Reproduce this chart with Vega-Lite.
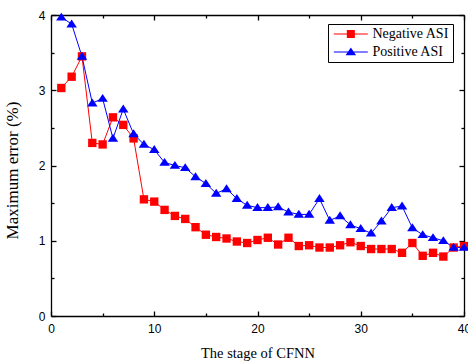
{
  "$schema": "https://vega.github.io/schema/vega-lite/v6.json",
  "width": 413,
  "height": 301,
  "autosize": "none",
  "padding": {"left": 51, "top": 15, "right": 4, "bottom": 46},
  "config": {
    "view": {"stroke": null},
    "font": "Liberation Sans",
    "axis": {
      "domainColor": "black",
      "domainWidth": 1.3,
      "tickColor": "black",
      "tickWidth": 1.3,
      "grid": false,
      "labelFont": "Liberation Sans",
      "labelFontSize": 12,
      "labelColor": "black",
      "titleFont": "Liberation Serif",
      "titleFontWeight": "normal",
      "titleColor": "black"
    }
  },
  "data": {
    "values": [
      {"stage": 1, "series": "Negative ASI", "value": 3.03},
      {"stage": 2, "series": "Negative ASI", "value": 3.18},
      {"stage": 3, "series": "Negative ASI", "value": 3.45},
      {"stage": 4, "series": "Negative ASI", "value": 2.30},
      {"stage": 5, "series": "Negative ASI", "value": 2.28},
      {"stage": 6, "series": "Negative ASI", "value": 2.64},
      {"stage": 7, "series": "Negative ASI", "value": 2.54},
      {"stage": 8, "series": "Negative ASI", "value": 2.36},
      {"stage": 9, "series": "Negative ASI", "value": 1.55},
      {"stage": 10, "series": "Negative ASI", "value": 1.52},
      {"stage": 11, "series": "Negative ASI", "value": 1.41},
      {"stage": 12, "series": "Negative ASI", "value": 1.33},
      {"stage": 13, "series": "Negative ASI", "value": 1.29},
      {"stage": 14, "series": "Negative ASI", "value": 1.18},
      {"stage": 15, "series": "Negative ASI", "value": 1.08},
      {"stage": 16, "series": "Negative ASI", "value": 1.05},
      {"stage": 17, "series": "Negative ASI", "value": 1.03},
      {"stage": 18, "series": "Negative ASI", "value": 0.99},
      {"stage": 19, "series": "Negative ASI", "value": 0.97},
      {"stage": 20, "series": "Negative ASI", "value": 1.01},
      {"stage": 21, "series": "Negative ASI", "value": 1.04},
      {"stage": 22, "series": "Negative ASI", "value": 0.95},
      {"stage": 23, "series": "Negative ASI", "value": 1.04},
      {"stage": 24, "series": "Negative ASI", "value": 0.93},
      {"stage": 25, "series": "Negative ASI", "value": 0.94},
      {"stage": 26, "series": "Negative ASI", "value": 0.91},
      {"stage": 27, "series": "Negative ASI", "value": 0.91},
      {"stage": 28, "series": "Negative ASI", "value": 0.94},
      {"stage": 29, "series": "Negative ASI", "value": 0.98},
      {"stage": 30, "series": "Negative ASI", "value": 0.93},
      {"stage": 31, "series": "Negative ASI", "value": 0.89},
      {"stage": 32, "series": "Negative ASI", "value": 0.89},
      {"stage": 33, "series": "Negative ASI", "value": 0.89},
      {"stage": 34, "series": "Negative ASI", "value": 0.84},
      {"stage": 35, "series": "Negative ASI", "value": 0.97},
      {"stage": 36, "series": "Negative ASI", "value": 0.80},
      {"stage": 37, "series": "Negative ASI", "value": 0.84},
      {"stage": 38, "series": "Negative ASI", "value": 0.79},
      {"stage": 39, "series": "Negative ASI", "value": 0.91},
      {"stage": 40, "series": "Negative ASI", "value": 0.93},
      {"stage": 1, "series": "Positive ASI", "value": 3.97},
      {"stage": 2, "series": "Positive ASI", "value": 3.88},
      {"stage": 3, "series": "Positive ASI", "value": 3.45},
      {"stage": 4, "series": "Positive ASI", "value": 2.83},
      {"stage": 5, "series": "Positive ASI", "value": 2.89},
      {"stage": 6, "series": "Positive ASI", "value": 2.36},
      {"stage": 7, "series": "Positive ASI", "value": 2.75},
      {"stage": 8, "series": "Positive ASI", "value": 2.42},
      {"stage": 9, "series": "Positive ASI", "value": 2.28},
      {"stage": 10, "series": "Positive ASI", "value": 2.21},
      {"stage": 11, "series": "Positive ASI", "value": 2.04},
      {"stage": 12, "series": "Positive ASI", "value": 2.00},
      {"stage": 13, "series": "Positive ASI", "value": 1.97},
      {"stage": 14, "series": "Positive ASI", "value": 1.85},
      {"stage": 15, "series": "Positive ASI", "value": 1.76},
      {"stage": 16, "series": "Positive ASI", "value": 1.63},
      {"stage": 17, "series": "Positive ASI", "value": 1.69},
      {"stage": 18, "series": "Positive ASI", "value": 1.56},
      {"stage": 19, "series": "Positive ASI", "value": 1.47},
      {"stage": 20, "series": "Positive ASI", "value": 1.44},
      {"stage": 21, "series": "Positive ASI", "value": 1.44},
      {"stage": 22, "series": "Positive ASI", "value": 1.45},
      {"stage": 23, "series": "Positive ASI", "value": 1.38},
      {"stage": 24, "series": "Positive ASI", "value": 1.35},
      {"stage": 25, "series": "Positive ASI", "value": 1.35},
      {"stage": 26, "series": "Positive ASI", "value": 1.56},
      {"stage": 27, "series": "Positive ASI", "value": 1.27},
      {"stage": 28, "series": "Positive ASI", "value": 1.33},
      {"stage": 29, "series": "Positive ASI", "value": 1.21},
      {"stage": 30, "series": "Positive ASI", "value": 1.16},
      {"stage": 31, "series": "Positive ASI", "value": 1.10},
      {"stage": 32, "series": "Positive ASI", "value": 1.26},
      {"stage": 33, "series": "Positive ASI", "value": 1.44},
      {"stage": 34, "series": "Positive ASI", "value": 1.46},
      {"stage": 35, "series": "Positive ASI", "value": 1.17},
      {"stage": 36, "series": "Positive ASI", "value": 1.08},
      {"stage": 37, "series": "Positive ASI", "value": 1.04},
      {"stage": 38, "series": "Positive ASI", "value": 1.00},
      {"stage": 39, "series": "Positive ASI", "value": 0.91},
      {"stage": 40, "series": "Positive ASI", "value": 0.91}
    ]
  },
  "layer": [
    {
      "mark": {"type": "line", "strokeWidth": 1, "clip": false},
      "encoding": {
        "x": {
          "field": "stage", "type": "quantitative",
          "scale": {"domain": [0, 40], "nice": false, "zero": false},
          "axis": {
            "orient": "bottom",
            "title": "The stage of CFNN",
            "titleFontSize": 14.5,
            "titlePadding": 10,
            "values": [0, 5, 10, 15, 20, 25, 30, 35, 40],
            "labelExpr": "datum.value % 10 === 0 ? '' + datum.value : ''",
            "tickSize": {"condition": {"test": "datum.value % 10 === 0", "value": -5}, "value": -3},
            "labelPadding": 12,
            "labelFlush": false,
            "labelOverlap": false
          }
        },
        "y": {
          "field": "value", "type": "quantitative",
          "scale": {"domain": [0, 4], "nice": false},
          "axis": {
            "orient": "left",
            "title": "Maximum error (%)",
            "titleFontSize": 17,
            "titlePadding": 17,
            "titleY": 155,
            "values": [0, 0.5, 1, 1.5, 2, 2.5, 3, 3.5, 4],
            "labelExpr": "datum.value % 1 === 0 ? '' + datum.value : ''",
            "tickSize": {"condition": {"test": "datum.value % 1 === 0", "value": -5}, "value": -3},
            "labelPadding": 11,
            "labelFlush": false,
            "labelOverlap": false
          }
        },
        "color": {
          "condition": {"test": "datum.series === 'Negative ASI'", "value": "#ff0000"},
          "value": "#0000ff"
        },
        "detail": {"field": "series"}
      }
    },
    {
      "transform": [{"filter": "datum.series === 'Negative ASI'"}],
      "mark": {"type": "point", "filled": true, "opacity": 1, "size": 70, "shape": "square", "color": "#ff0000", "clip": false},
      "encoding": {
        "x": {"field": "stage", "type": "quantitative", "axis": null},
        "y": {"field": "value", "type": "quantitative", "axis": null}
      }
    },
    {
      "transform": [{"filter": "datum.series === 'Positive ASI'"}],
      "mark": {"type": "point", "filled": true, "opacity": 1, "size": 70, "shape": "M0,-1.1L1.25,0.8L-1.25,0.8Z", "color": "#0000ff", "clip": false},
      "encoding": {
        "x": {"field": "stage", "type": "quantitative", "axis": null},
        "y": {"field": "value", "type": "quantitative", "axis": null}
      }
    },
    {
      "mark": {"type": "point", "filled": true, "opacity": 0, "size": 70},
      "encoding": {
        "x": {"field": "stage", "type": "quantitative", "axis": null},
        "y": {"field": "value", "type": "quantitative", "axis": null},
        "color": {
          "field": "series", "type": "nominal",
          "scale": {"domain": ["Negative ASI", "Positive ASI"], "range": ["#ff0000", "#0000ff"]},
          "legend": {
            "title": null,
            "orient": "none",
            "legendX": 277,
            "legendY": 9,
            "strokeColor": "black",
            "fillColor": "white",
            "padding": 3,
            "rowPadding": 4,
            "labelFont": "Liberation Serif",
            "labelFontSize": 14,
            "labelColor": "black",
            "labelOffset": 27.5,
            "symbolSize": 70,
            "symbolOpacity": 1
          }
        },
        "shape": {
          "field": "series", "type": "nominal",
          "scale": {"domain": ["Negative ASI", "Positive ASI"], "range": ["M-1,-0.12H7.13V0.12H-1ZM2.11,-0.96H4.03V0.96H2.11Z", "M-1,-0.12H7.13V0.12H-1ZM3.07,-1.1L4.32,0.8L1.82,0.8Z"]},
          "legend": null
        }
      }
    },
    {
      "mark": {"type": "point", "opacity": 0},
      "encoding": {
        "x": {
          "field": "stage", "type": "quantitative",
          "axis": {
            "orient": "top", "title": null,
            "values": [0, 5, 10, 15, 20, 25, 30, 35, 40],
            "labels": false,
            "tickSize": {"condition": {"test": "datum.value % 10 === 0", "value": -5}, "value": -3}
          }
        },
        "y": {
          "field": "value", "type": "quantitative",
          "axis": {
            "orient": "right", "title": null,
            "values": [0, 0.5, 1, 1.5, 2, 2.5, 3, 3.5, 4],
            "labels": false,
            "tickSize": {"condition": {"test": "datum.value % 1 === 0", "value": -5}, "value": -3}
          }
        }
      }
    }
  ],
  "resolve": {"axis": {"x": "independent", "y": "independent"}}
}
